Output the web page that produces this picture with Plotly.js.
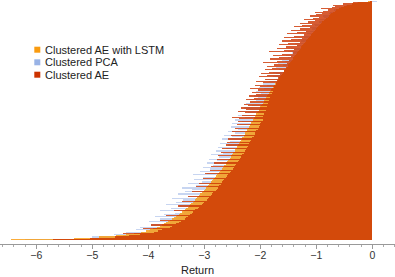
<!DOCTYPE html>
<html>
<head>
<meta charset="utf-8">
<script src="https://cdn.plot.ly/plotly-3.0.1.min.js"></script>
<style>html,body{margin:0;padding:0;background:#fff;}#chart{width:395px;height:277px;}</style>
</head>
<body>
<div id="chart"></div>
<script>
// Rows listed from bottom (1) to top (200)
var seriesNames = ["Clustered AE with LSTM", "Clustered PCA", "Clustered AE"];
var aeLstm = [
 -6.45,-5.32,-4.88,-4.58,-4.40,-4.26,-4.13,-4.04,-3.97,-3.91,
 -3.85,-3.80,-3.76,-3.72,-3.68,-3.64,-3.61,-3.57,-3.54,-3.51,
 -3.48,-3.45,-3.43,-3.40,-3.38,-3.35,-3.33,-3.30,-3.28,-3.26,
 -3.24,-3.21,-3.19,-3.17,-3.15,-3.13,-3.11,-3.09,-3.07,-3.05,
 -3.03,-3.01,-2.99,-2.97,-2.95,-2.93,-2.92,-2.90,-2.88,-2.86,
 -2.84,-2.82,-2.81,-2.79,-2.77,-2.75,-2.74,-2.72,-2.70,-2.69,
 -2.67,-2.65,-2.64,-2.62,-2.61,-2.59,-2.58,-2.56,-2.55,-2.53,
 -2.52,-2.51,-2.49,-2.48,-2.46,-2.45,-2.44,-2.42,-2.41,-2.40,
 -2.38,-2.37,-2.36,-2.34,-2.33,-2.32,-2.30,-2.29,-2.28,-2.27,
 -2.25,-2.24,-2.23,-2.22,-2.20,-2.19,-2.18,-2.17,-2.16,-2.14,
 -2.13,-2.12,-2.11,-2.10,-2.08,-2.07,-2.06,-2.05,-2.03,-2.02,
 -2.01,-2.00,-1.98,-1.97,-1.96,-1.94,-1.93,-1.92,-1.90,-1.89,
 -1.88,-1.86,-1.85,-1.84,-1.82,-1.81,-1.80,-1.78,-1.77,-1.75,
 -1.74,-1.72,-1.71,-1.69,-1.68,-1.66,-1.65,-1.63,-1.62,-1.60,
 -1.59,-1.57,-1.56,-1.54,-1.53,-1.51,-1.50,-1.48,-1.47,-1.45,
 -1.44,-1.42,-1.41,-1.39,-1.38,-1.36,-1.35,-1.33,-1.31,-1.30,
 -1.28,-1.27,-1.25,-1.23,-1.22,-1.20,-1.18,-1.17,-1.15,-1.13,
 -1.12,-1.10,-1.08,-1.06,-1.05,-1.03,-1.01,-0.99,-0.97,-0.95,
 -0.93,-0.91,-0.89,-0.87,-0.85,-0.83,-0.80,-0.78,-0.75,-0.73,
 -0.70,-0.67,-0.64,-0.60,-0.56,-0.51,-0.45,-0.37,-0.26,-0.08];
var pca = [
 -6.20,-4.95,-5.00,-4.45,-4.62,-4.18,-4.40,-3.98,-4.22,-3.86,
 -4.15,-3.74,-3.95,-3.70,-3.62,-3.98,-3.55,-3.80,-3.50,-3.88,
 -3.44,-3.72,-3.52,-3.36,-3.80,-3.31,-3.60,-3.27,-3.45,-3.68,
 -3.20,-3.50,-3.15,-3.38,-3.58,-3.10,-3.30,-3.05,-3.47,-3.02,
 -3.35,-2.98,-3.22,-3.40,-2.92,-3.15,-2.88,-3.30,-3.05,-2.83,
 -3.18,-2.80,-3.02,-2.76,-3.20,-2.95,-2.71,-3.08,-2.68,-2.90,
 -3.02,-2.63,-2.85,-2.60,-2.96,-2.57,-2.78,-2.92,-2.53,-2.74,
 -2.50,-2.88,-2.66,-2.46,-2.80,-2.43,-2.62,-2.75,-2.39,-2.58,
 -2.72,-2.35,-2.55,-2.33,-2.68,-2.30,-2.50,-2.64,-2.27,-2.45,
 -2.58,-2.22,-2.40,-2.21,-2.52,-2.18,-2.36,-2.50,-2.15,-2.33,
 -2.45,-2.10,-2.28,-2.08,-2.40,-2.05,-2.22,-2.36,-2.02,-2.18,
 -2.30,-1.98,-2.14,-1.96,-2.25,-1.92,-2.08,-2.20,-1.89,-2.05,
 -2.12,-1.85,-1.98,-1.83,-2.08,-1.80,-1.93,-2.02,-1.76,-1.88,
 -1.95,-1.71,-1.84,-1.68,-1.90,-1.65,-1.77,-1.86,-1.61,-1.72,
 -1.78,-1.56,-1.66,-1.53,-1.72,-1.50,-1.60,-1.68,-1.46,-1.56,
 -1.62,-1.41,-1.50,-1.38,-1.55,-1.35,-1.44,-1.50,-1.30,-1.40,
 -1.45,-1.26,-1.34,-1.22,-1.38,-1.19,-1.27,-1.32,-1.14,-1.22,
 -1.26,-1.09,-1.16,-1.05,-1.18,-1.02,-1.08,-1.12,-0.96,-1.02,
 -1.05,-0.90,-0.95,-0.86,-0.96,-0.82,-0.86,-0.88,-0.74,-0.78,
 -0.76,-0.66,-0.68,-0.59,-0.60,-0.50,-0.47,-0.36,-0.27,0.08];
var ae = [
 -5.70,-5.05,-4.60,-4.35,-4.15,-4.45,-3.90,-3.82,-3.76,-4.10,
 -3.62,-3.58,-3.95,-3.50,-3.45,-3.42,-3.80,-3.35,-3.32,-3.30,
 -3.68,-3.25,-3.22,-3.20,-3.55,-3.16,-3.12,-3.10,-3.47,-3.05,
 -3.02,-3.00,-3.40,-2.96,-2.94,-2.92,-3.30,-2.88,-2.86,-2.84,
 -3.22,-2.80,-2.78,-2.76,-3.15,-2.73,-2.71,-3.10,-2.68,-2.66,
 -2.64,-3.02,-2.61,-2.59,-2.57,-2.98,-2.54,-2.52,-2.90,-2.49,
 -2.47,-2.88,-2.45,-2.43,-2.82,-2.40,-2.38,-2.78,-2.36,-2.34,
 -2.75,-2.32,-2.30,-2.70,-2.28,-2.26,-2.68,-2.24,-2.22,-2.62,
 -2.20,-2.60,-2.18,-2.16,-2.58,-2.14,-2.12,-2.52,-2.10,-2.09,
 -2.50,-2.07,-2.05,-2.45,-2.03,-2.01,-2.42,-2.00,-1.98,-2.40,
 -1.96,-2.38,-2.50,-1.95,-2.32,-1.93,-2.28,-2.40,-1.90,-2.25,
 -2.35,-1.88,-2.22,-2.30,-1.86,-2.18,-1.84,-2.25,-2.12,-1.82,
 -2.20,-2.08,-1.80,-2.15,-1.78,-2.05,-2.18,-1.76,-2.00,-2.10,
 -1.72,-1.96,-2.08,-1.70,-1.92,-1.68,-2.02,-1.88,-1.65,-1.98,
 -1.84,-1.58,-1.92,-1.80,-1.55,-1.88,-1.76,-1.52,-1.95,-1.70,
 -1.48,-1.82,-1.66,-1.45,-1.78,-1.62,-1.42,-1.85,-1.58,-1.40,
 -1.70,-1.55,-1.35,-1.66,-1.50,-1.30,-1.62,-1.45,-1.26,-1.58,
 -1.40,-1.22,-1.52,-1.35,-1.18,-1.46,-1.30,-1.12,-1.40,-1.25,
 -1.08,-1.30,-1.15,-1.02,-1.22,-1.06,-0.96,-1.12,-1.00,-0.90,
 -1.02,-0.88,-0.80,-0.92,-0.72,-0.66,-0.70,-0.52,-0.35,-0.05];
var tickVals = [-6,-5,-4,-3,-2,-1,0];
var colors = ["#F99B10", "#99B3E6", "#CC3300"];
var opac = [0.82, 0.55, 0.8];
var drawOrder = [1, 0, 2]; // PCA beneath, then LSTM, AE on top

var rows = aeLstm.map(function(_, i){ return i + 1; });
var allSeries = [aeLstm, pca, ae];
var traces = drawOrder.map(function(k){
  return {
    type: "bar", orientation: "h", x: allSeries[k], y: rows, name: seriesNames[k],
    marker: {color: colors[k], opacity: opac[k], line: {width: 0}},
    showlegend: false, hoverinfo: "skip"
  };
});

// legend built from series names/colors
var legY = [49.7, 62.3, 74.7];
var shapes = [], annotations = [];
var plotH = 244;
seriesNames.forEach(function(n, k){
  var yc = legY[k];
  shapes.push({type: "rect", xref: "paper", yref: "paper",
    x0: 34.3/395, x1: 40.3/395, y0: 1 - (yc + 3)/plotH, y1: 1 - (yc - 3)/plotH,
    fillcolor: colors[k], line: {width: 0}});
  annotations.push({xref: "paper", yref: "paper", x: 42.5/395, y: 1 - yc/plotH,
    xanchor: "left", yanchor: "middle", showarrow: false, text: n,
    font: {family: "Liberation Sans, Arial, sans-serif", size: 11, color: "#222"}});
});

var layout = {
  width: 395, height: 277,
  margin: {l: 0, r: 0, t: 0, b: 33, pad: 0},
  paper_bgcolor: "#fff", plot_bgcolor: "#fff",
  barmode: "overlay", bargap: 0,
  showlegend: false,
  font: {family: "Liberation Sans, Arial, sans-serif", size: 10.5, color: "#333"},
  xaxis: {
    range: [-6.648, 0.405], tickvals: tickVals, ticks: "outside", ticklen: 4,
    tickcolor: "#999", tickwidth: 1, showline: true, linecolor: "#999", linewidth: 1,
    showgrid: false, zeroline: false, ticklabelstandoff: -3,
    minor: {dtick: 0.2, ticks: "outside", ticklen: 2, tickcolor: "#aaa", showgrid: false},
    tickfont: {size: 10.5, color: "#333"},
    title: {text: "Return", standoff: 6, font: {size: 11, color: "#222"}}
  },
  yaxis: {range: [-2.847, 201.337], visible: false, showgrid: false, zeroline: false},
  shapes: shapes, annotations: annotations
};
Plotly.newPlot("chart", traces, layout, {staticPlot: true, displayModeBar: false});
</script>
</body>
</html>
